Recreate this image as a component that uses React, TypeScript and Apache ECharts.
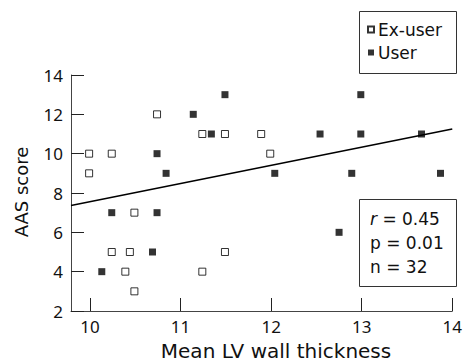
import React, { useEffect, useRef } from "react";
import * as echarts from "echarts";

// Ex-user (open squares): [LV wall thickness, AAS score]
const exUserX = [9.99, 10.24, 10.74, 9.99, 11.24, 11.49, 11.89, 11.99, 10.49, 10.24, 10.44, 10.39, 11.24, 10.49, 11.49];
const exUserY = [10, 10, 12, 9, 11, 11, 11, 10, 7, 5, 5, 4, 4, 3, 5];
// User (filled squares)
const userX = [11.14, 10.74, 10.84, 11.49, 11.34, 12.54, 12.04, 12.99, 12.99, 13.66, 12.89, 13.87, 12.75, 10.24, 10.74, 10.69, 10.13];
const userY = [12, 10, 9, 13, 11, 11, 9, 13, 11, 11, 9, 9, 6, 7, 7, 5, 4];
// Regression line end points
const fitX = [9.79, 14];
const fitY = [7.36, 11.25];
const xTicks = [10, 11, 12, 13, 14];
const statLines = ["r = 0.45", "p = 0.01", "n = 32"];

const FONT = "DejaVu Sans";
const NUMFONT = "Noto Sans";

export default function App() {
  const ref = useRef<HTMLDivElement>(null);
  useEffect(() => {
    document.body.style.margin = "0";
    const chart = echarts.init(ref.current!, null, { renderer: "svg" });
    const zip = (xs: number[], ys: number[]) => xs.map((x, i) => [x, ys[i]]);
    chart.setOption({
      animation: false,
      backgroundColor: "#fff",
      textStyle: { fontFamily: FONT },
      grid: { left: 71, right: 9, top: 75, bottom: 52 },
      xAxis: {
        type: "value",
        min: 9.79,
        max: 14,
        axisLine: { show: true, lineStyle: { color: "#444", width: 1 } },
        axisTick: { show: true, inside: true, length: 13, customValues: xTicks, lineStyle: { color: "#222" } },
        axisLabel: { customValues: xTicks, fontSize: 17, color: "#111", margin: 7, fontFamily: NUMFONT },
        splitLine: { show: false },
      },
      yAxis: {
        type: "value",
        min: 2,
        max: 14,
        interval: 2,
        axisLine: { show: true, lineStyle: { color: "#444", width: 1 } },
        axisTick: { show: true, inside: true, length: 13, lineStyle: { color: "#222" } },
        axisLabel: { fontSize: 17, color: "#111", margin: 8, fontFamily: NUMFONT },
        splitLine: { show: false },
      },
      legend: {
        left: 362,
        top: 16,
        orient: "vertical",
        itemWidth: 6,
        itemHeight: 6,
        itemGap: 6,
        textStyle: { fontSize: 17, color: "#111", fontFamily: FONT, padding: [0, 0, 0, -1] },
        data: [
          { name: "Ex-user", icon: "rect" },
          { name: "User", icon: "rect" },
        ],
      },
      series: [
        {
          name: "Fit",
          type: "line",
          data: zip(fitX, fitY),
          symbol: "none",
          lineStyle: { color: "#000", width: 1.5 },
          z: 1,
        },
        {
          name: "Ex-user",
          type: "scatter",
          symbol: "rect",
          symbolSize: 7,
          data: zip(exUserX, exUserY),
          itemStyle: { color: "#fff", borderColor: "#000", borderWidth: 1 },
          z: 3,
        },
        {
          name: "User",
          type: "scatter",
          symbol: "rect",
          symbolSize: 7,
          data: zip(userX, userY),
          itemStyle: { color: "#000" },
          z: 3,
        },
      ],
      graphic: [
        {
          type: "rect",
          shape: { x: 359.5, y: 11.5, width: 97, height: 62 },
          style: { fill: "none", stroke: "#333", lineWidth: 1 },
        },
        {
          type: "rect",
          shape: { x: 359.5, y: 199.5, width: 97, height: 87 },
          style: { fill: "#fff", stroke: "#333", lineWidth: 1 },
          z: 10,
        },
        {
          type: "text",
          x: 370,
          y: 210,
          z: 11,
          style: {
            text: "{i|r} = 0.45",
            fontSize: 17,
            fontFamily: FONT,
            fill: "#111",
            rich: { i: { fontStyle: "italic", fontSize: 17, fontFamily: FONT } },
          },
        },
        {
          type: "text",
          x: 370,
          y: 234,
          z: 11,
          style: { text: statLines[1], fontSize: 17, fontFamily: FONT, fill: "#111" },
        },
        {
          type: "text",
          x: 370,
          y: 258,
          z: 11,
          style: { text: statLines[2], fontSize: 17, fontFamily: FONT, fill: "#111" },
        },
        {
          type: "text",
          x: 276,
          y: 351,
          style: {
            text: "Mean LV wall thickness",
            fontSize: 20,
            fontFamily: FONT,
            fill: "#111",
            align: "center",
            verticalAlign: "middle",
          },
        },
        {
          type: "text",
          x: 21,
          y: 192,
          rotation: Math.PI / 2,
          style: {
            text: "AAS score",
            fontSize: 18,
            fontFamily: FONT,
            fill: "#111",
            align: "center",
            verticalAlign: "middle",
          },
        },
      ],
    });
    return () => chart.dispose();
  }, []);
  return <div ref={ref} style={{ width: 465, height: 363 }} />;
}
